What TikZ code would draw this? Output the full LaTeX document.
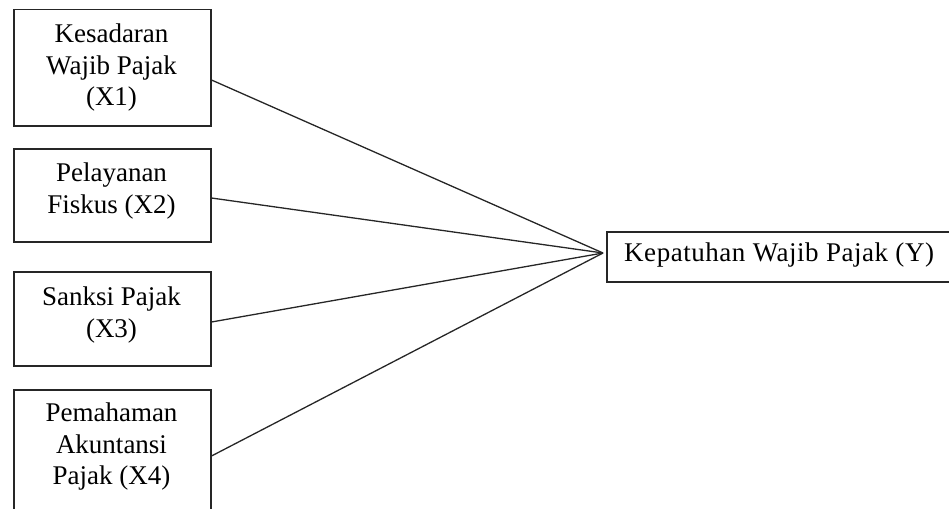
\documentclass[tikz,border=0pt]{standalone}
\usepackage{fontspec}
\setmainfont{Liberation Serif}
\begin{document}
\begin{tikzpicture}[x=1pt,y=-1pt,
  boxshape/.style={draw=black!85,line width=1.5pt,inner sep=0pt,anchor=north west},
  lbl/.style={inner sep=0pt,align=center,font=\fontsize{27}{31.5}\selectfont,text=black},
  link/.style={draw=black!85,line width=1.3pt}]
\useasboundingbox (0,0) rectangle (949,508);
\node[boxshape,minimum width=197pt,minimum height=116pt] (b1) at (13,9) {};
\node[boxshape,minimum width=197pt,minimum height=93pt] (b2) at (13,148) {};
\node[boxshape,minimum width=197pt,minimum height=94pt] (b3) at (13,271) {};
\node[boxshape,minimum width=197pt,minimum height=140pt] (b4) at (13,389) {};
\node[boxshape,minimum width=360pt,minimum height=50pt] (y) at (606,231) {};
\node[lbl] (t1) at (111.5,68) {Kesadaran\\Wajib Pajak\\(X1)};
\node[lbl] (t2) at (111.5,191) {Pelayanan\\Fiskus (X2)};
\node[lbl] (t3) at (111.5,315) {Sanksi Pajak\\(X3)};
\node[lbl] (t4) at (111.5,447) {Pemahaman\\Akuntansi\\Pajak (X4)};
\node[lbl,anchor=west] (ty) at (624,255) {\addfontfeature{LetterSpace=2}Kepatuhan Wajib Pajak (Y)};
\coordinate (p) at (603,253);
\coordinate (s1) at (b1.east |- 0,80);
\coordinate (s2) at (b2.east |- 0,198);
\coordinate (s3) at (b3.east |- 0,322);
\coordinate (s4) at (b4.east |- 0,456);
\draw[link] (s1) -- (p);
\draw[link] (s2) -- (p);
\draw[link] (s3) -- (p);
\draw[link] (s4) -- (p);
\end{tikzpicture}
\end{document}
